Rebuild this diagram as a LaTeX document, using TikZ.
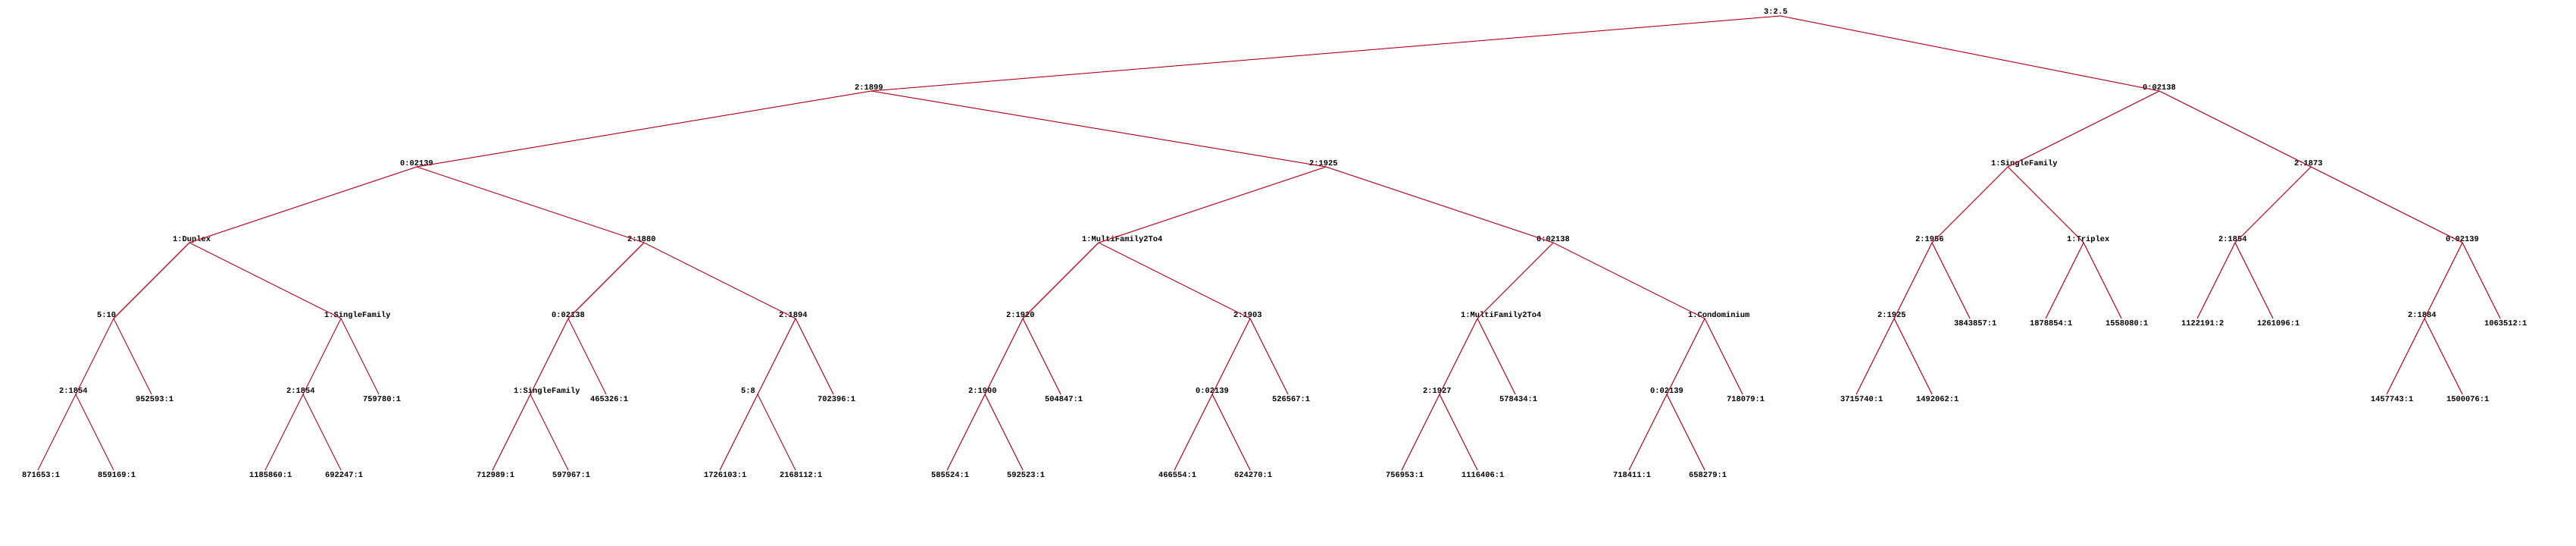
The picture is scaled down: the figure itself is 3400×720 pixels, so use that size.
\documentclass[tikz,border=0pt]{standalone}
\usepackage{fontspec}
\setmonofont{Liberation Mono}
\definecolor{edgered}{RGB}{185,15,40}
\newcommand\INd[4]{\coordinate (#1) at (#2,#3); \node[lab] (#1-t) at (#2-22,#3-2) {#4};}
\newcommand\LFd[4]{\coordinate (#1) at (#2,#3); \node[lab] (#1-t) at (#2-21,#3+9) {#4};}
\begin{document}
\begin{tikzpicture}[x=1pt,y=-1pt,
  lab/.style={font=\ttfamily\bfseries\fontsize{10.4}{12}\selectfont, inner sep=0pt, anchor=base west, text=black},
  edge/.style={draw=edgered, line width=1.1pt}]
\fill[white] (0,0) rectangle (3400,720);
\useasboundingbox (0,0) rectangle (3400,720);
% level 0-1
\INd{r}{2350}{21}{3:2.5}
\INd{a}{1150}{120}{2:1899}
\INd{b}{2850}{120}{0:02138}
% left-left
\INd{a1}{550}{220}{0:02139}
\INd{a11}{250}{320}{1:Duplex}
\INd{a12}{850}{320}{2:1880}
\INd{a111}{150}{420}{5:10}
\INd{a112}{450}{420}{1:SingleFamily}
\INd{a1111}{100}{520}{2:1854}
\LFd{a1112}{200}{520}{952593:1}
\LFd{a11111}{50}{620}{871653:1}
\LFd{a11112}{150}{620}{859169:1}
\INd{a1121}{400}{520}{2:1854}
\LFd{a1122}{500}{520}{759780:1}
\LFd{a11211}{350}{620}{1185860:1}
\LFd{a11212}{450}{620}{692247:1}
\INd{a121}{750}{420}{0:02138}
\INd{a122}{1050}{420}{2:1894}
\INd{a1211}{700}{520}{1:SingleFamily}
\LFd{a1212}{800}{520}{465326:1}
\LFd{a12111}{650}{620}{712989:1}
\LFd{a12112}{750}{620}{597967:1}
\INd{a1221}{1000}{520}{5:8}
\LFd{a1222}{1100}{520}{702396:1}
\LFd{a12211}{950}{620}{1726103:1}
\LFd{a12212}{1050}{620}{2168112:1}
% left-right
\INd{a2}{1750}{220}{2:1925}
\INd{a21}{1450}{320}{1:MultiFamily2To4}
\INd{a22}{2050}{320}{0:02138}
\INd{a211}{1350}{420}{2:1920}
\INd{a212}{1650}{420}{2:1903}
\INd{a2111}{1300}{520}{2:1900}
\LFd{a2112}{1400}{520}{504847:1}
\LFd{a21111}{1250}{620}{585524:1}
\LFd{a21112}{1350}{620}{592523:1}
\INd{a2121}{1600}{520}{0:02139}
\LFd{a2122}{1700}{520}{526567:1}
\LFd{a21211}{1550}{620}{466554:1}
\LFd{a21212}{1650}{620}{624270:1}
\INd{a221}{1950}{420}{1:MultiFamily2To4}
\INd{a222}{2250}{420}{1:Condominium}
\INd{a2211}{1900}{520}{2:1927}
\LFd{a2212}{2000}{520}{578434:1}
\LFd{a22111}{1850}{620}{756953:1}
\LFd{a22112}{1950}{620}{1116406:1}
\INd{a2221}{2200}{520}{0:02139}
\LFd{a2222}{2300}{520}{718079:1}
\LFd{a22211}{2150}{620}{718411:1}
\LFd{a22212}{2250}{620}{658279:1}
% right
\INd{b1}{2650}{220}{1:SingleFamily}
\INd{b2}{3050}{220}{2:1873}
\INd{b11}{2550}{320}{2:1956}
\INd{b12}{2750}{320}{1:Triplex}
\INd{b111}{2500}{420}{2:1925}
\LFd{b112}{2600}{420}{3843857:1}
\LFd{b1111}{2450}{520}{3715740:1}
\LFd{b1112}{2550}{520}{1492062:1}
\LFd{b121}{2700}{420}{1878854:1}
\LFd{b122}{2800}{420}{1558080:1}
\INd{b21}{2950}{320}{2:1854}
\INd{b22}{3250}{320}{0:02139}
\LFd{b211}{2900}{420}{1122191:2}
\LFd{b212}{3000}{420}{1261096:1}
\INd{b221}{3200}{420}{2:1884}
\LFd{b222}{3300}{420}{1063512:1}
\LFd{b2211}{3150}{520}{1457743:1}
\LFd{b2212}{3250}{520}{1500076:1}
% edges
\foreach \p/\c in {r/a,r/b,a/a1,a/a2,
  a1/a11,a1/a12,a11/a111,a11/a112,a111/a1111,a111/a1112,a1111/a11111,a1111/a11112,
  a112/a1121,a112/a1122,a1121/a11211,a1121/a11212,
  a12/a121,a12/a122,a121/a1211,a121/a1212,a1211/a12111,a1211/a12112,
  a122/a1221,a122/a1222,a1221/a12211,a1221/a12212,
  a2/a21,a2/a22,a21/a211,a21/a212,a211/a2111,a211/a2112,a2111/a21111,a2111/a21112,
  a212/a2121,a212/a2122,a2121/a21211,a2121/a21212,
  a22/a221,a22/a222,a221/a2211,a221/a2212,a2211/a22111,a2211/a22112,
  a222/a2221,a222/a2222,a2221/a22211,a2221/a22212,
  b/b1,b/b2,b1/b11,b1/b12,b11/b111,b11/b112,b111/b1111,b111/b1112,b12/b121,b12/b122,
  b2/b21,b2/b22,b21/b211,b21/b212,b22/b221,b22/b222,b221/b2211,b221/b2212}
  \draw[edge] (\p) -- (\c);
\end{tikzpicture}
\end{document}
